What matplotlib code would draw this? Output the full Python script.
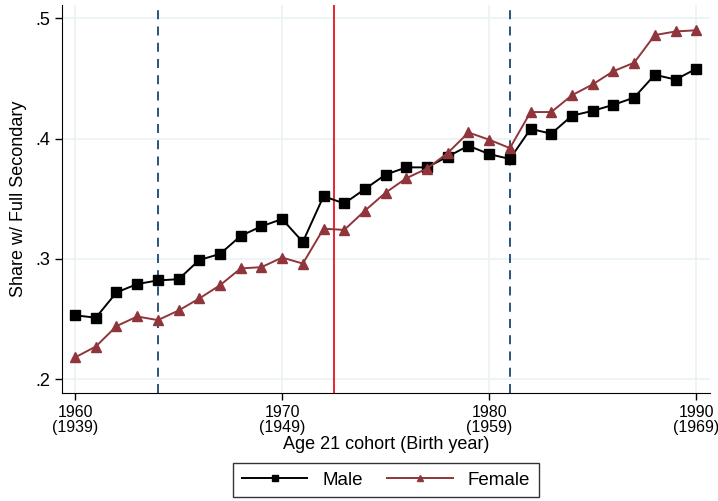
import matplotlib.pyplot as plt

years = list(range(1960, 1991))
male = [.253, .251, .272, .279, .282, .283, .299, .304, .319, .327, .333,
        .314, .352, .346, .358, .370, .376, .376, .385, .394, .387, .383,
        .408, .404, .419, .423, .428, .434, .453, .449, .458]
female = [.218, .227, .244, .252, .249, .257, .267, .278, .292, .293, .301,
          .296, .325, .324, .340, .355, .367, .375, .388, .405, .399, .392,
          .422, .422, .436, .445, .456, .463, .486, .489, .490]
xticks = [1960, 1970, 1980, 1990]
xlabels = ["1960\n(1939)", "1970\n(1949)", "1980\n(1959)", "1990\n(1969)"]
yticks = [.2, .3, .4, .5]
ylabels = [".2", ".3", ".4", ".5"]
dashed_x = [1964, 1981]
red_x = 1972.5

plt.rcParams['font.family'] = ['Liberation Sans', 'DejaVu Sans']

fig = plt.figure(figsize=(7.18, 5.01), dpi=100)
ax = fig.add_axes([0.0864, 0.2156, 0.9026, 0.7744])

for y in yticks:
    ax.axhline(y, color='#eaf2f3', lw=1.2, zorder=0)
for x in xticks:
    ax.axvline(x, color='#eaf2f3', lw=1.2, zorder=0)

for x in dashed_x:
    ax.axvline(x, color='#1a476f', lw=1.3, ls=(0, (5, 4)), zorder=1)
ax.axvline(red_x, color='#e8131c', lw=1.3, zorder=1)

ax.plot(years, male, color='black', marker='s', ms=7, lw=1.4, label='Male', zorder=3)
ax.plot(years, female, color='#90353b', marker='^', ms=7.5, lw=1.4, label='Female', zorder=3)

ax.set_xlim(1959.37, 1990.67)
ax.set_ylim(0.1884, 0.511)
ax.set_xticks(xticks)
ax.set_xticklabels(xlabels, fontsize=11.5, linespacing=1.0)
ax.set_yticks(yticks)
ax.set_yticklabels(ylabels, fontsize=13)
ax.tick_params(direction='out', length=5, width=1)
ax.set_xlabel("Age 21 cohort (Birth year)", fontsize=13, labelpad=1)
ax.set_ylabel("Share w/ Full Secondary", fontsize=13, labelpad=6)
for s in ['top', 'right']:
    ax.spines[s].set_visible(False)

leg = fig.legend(loc='lower center', bbox_to_anchor=(0.5376, 0.008), ncol=2,
                 fontsize=13.5, frameon=True, fancybox=False, edgecolor='black',
                 handlelength=3.5, columnspacing=1.3, markerscale=0.6,
                 borderpad=0.45, borderaxespad=0)
leg.get_frame().set_linewidth(1.0)

fig.savefig('out.png', dpi=100)
